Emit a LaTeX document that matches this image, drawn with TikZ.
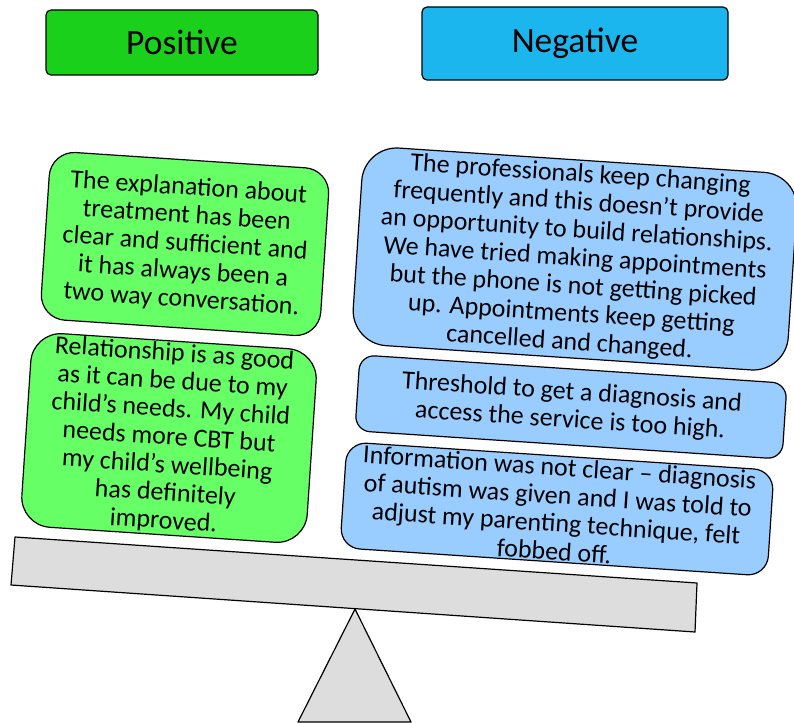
\documentclass[tikz,border=0pt]{standalone}
\usepackage{fontspec}
\setmainfont{Carlito}
\definecolor{headgreen}{RGB}{26,208,26}
\definecolor{headblue}{RGB}{28,182,238}
\definecolor{cardgreen}{RGB}{102,255,102}
\definecolor{cardblue}{RGB}{153,204,255}
\definecolor{beamgray}{RGB}{221,221,221}

\begin{document}
\begin{tikzpicture}[x=1pt,y=-1pt,line join=round,
  head/.style={draw,line width=1.2pt,rounded corners=5pt,inner sep=0pt,font=\fontsize{35.5}{40}\selectfont},
  card/.style={draw,line width=1.2pt,inner sep=0pt,align=center,rotate=-3.8,font=\fontsize{26}{28}\selectfont},
  poscard/.style={card,fill=cardgreen},
  negcard/.style={card,fill=cardblue},
  scalepart/.style={draw,line width=1.2pt,fill=beamgray}]
\useasboundingbox (0,0) rectangle (794,722);
% headings
\node[head,fill=headgreen,minimum width=272pt,minimum height=65pt] (head_pos) at (182,42.5) {Positive};
\node[head,fill=headblue,minimum width=306pt,minimum height=73pt] (head_neg) at (575,43.5) {Negative};
% positive side
\node[poscard,minimum width=280pt,minimum height=168pt,rounded corners=25pt] (pos_1) at (185,244)
  {The explanation about\\treatment has been\\clear and sufficient and\\it has always been a\\two way conversation.};
\node[poscard,minimum width=286pt,minimum height=194pt,rounded corners=30pt] (pos_2) at (169,438)
  {Relationship is as good\\as it can be due to my\\child’s needs.  My child\\needs more CBT but\\my child’s wellbeing\\has definitely\\improved.};
% negative side
\node[negcard,minimum width=436pt,minimum height=198pt,rounded corners=35pt] (neg_1) at (575,259)
  {The professionals keep changing\\frequently and this doesn’t provide\\an opportunity to build relationships.\\We have tried making appointments\\but the phone is not getting picked\\up. Appointments keep getting\\cancelled and changed.};
\node[negcard,minimum width=428pt,minimum height=76pt,rounded corners=15pt] (neg_2) at (571,407)
  {Threshold to get a diagnosis and\\access the service is too high.};
\node[negcard,minimum width=428pt,minimum height=106pt,rounded corners=20pt] (neg_3) at (557,509)
  {Information was not clear – diagnosis\\of autism was given and I was told to\\adjust my parenting technique, felt\\fobbed off.};
% the scales
\draw[scalepart] (15,537) -- (697,583) -- (695,632) -- (11,585) -- cycle;
\draw[scalepart] (355,609) -- (411,722) -- (298,722) -- cycle;
\end{tikzpicture}
\end{document}
